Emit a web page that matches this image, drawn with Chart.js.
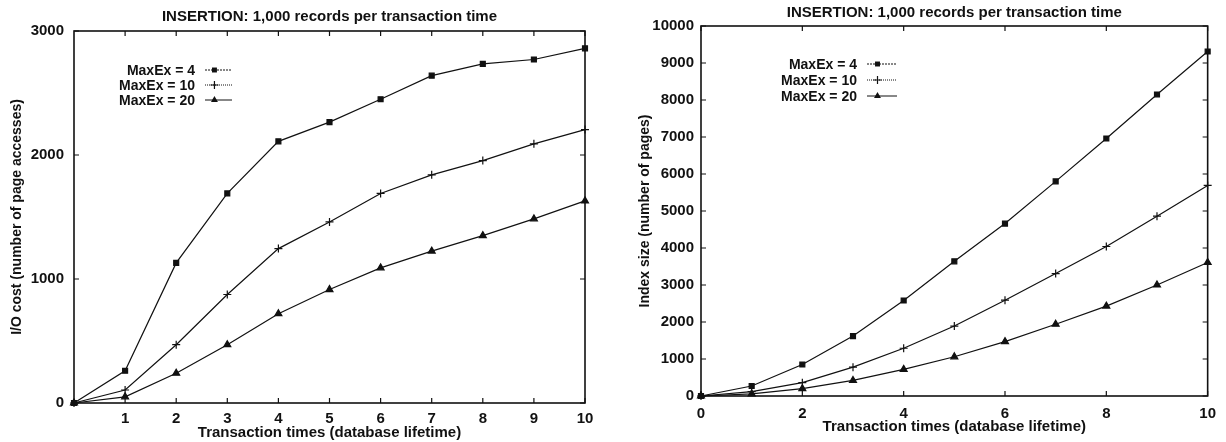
<!DOCTYPE html>
<html>
<head>
<meta charset="utf-8">
<script src="https://cdn.jsdelivr.net/npm/chart.js@4.4.0/dist/chart.umd.min.js"></script>
<style>
  body { margin: 0; background: #fff; }
  .panel { position: absolute; top: 0; width: 613px; height: 442px; }
</style>
</head>
<body>
<div class="panel" style="left:0"><canvas id="ioChart" width="613" height="442"></canvas></div>
<div class="panel" style="left:613px"><canvas id="sizeChart" width="613" height="442"></canvas></div>
<script>
// transaction times 0..10
const times = [0, 1, 2, 3, 4, 5, 6, 7, 8, 9, 10];
const seriesNames = ['MaxEx = 4', 'MaxEx = 10', 'MaxEx = 20'];

// left: I/O cost (number of page accesses)
const ioMaxEx4  = [0, 260, 1130, 1690, 2110, 2265, 2450, 2640, 2735, 2770, 2860];
const ioMaxEx10 = [0, 105, 470, 875, 1245, 1460, 1690, 1840, 1955, 2090, 2205];
const ioMaxEx20 = [0, 50, 240, 470, 720, 915, 1090, 1225, 1350, 1485, 1630];

// right: index size (number of pages)
const sizeMaxEx4  = [0, 270, 850, 1620, 2580, 3640, 4660, 5800, 6960, 8150, 9310];
const sizeMaxEx10 = [0, 120, 360, 780, 1290, 1890, 2590, 3310, 4040, 4860, 5690];
const sizeMaxEx20 = [0, 60, 200, 420, 720, 1060, 1470, 1940, 2430, 3000, 3610];

const ioTicksX = [1, 2, 3, 4, 5, 6, 7, 8, 9, 10];
const ioTicksY = [0, 1000, 2000, 3000];
const sizeTicksX = [0, 2, 4, 6, 8, 10];
const sizeTicksY = [0, 1000, 2000, 3000, 4000, 5000, 6000, 7000, 8000, 9000, 10000];

const titleText = 'INSERTION: 1,000 records per transaction time';
const FONT = '"Liberation Sans", Arial, Helvetica, sans-serif';
const INK = '#111';
const styles = [
  { pointStyle: 'rect', pointRadius: 3.5, dash: [2, 1] },
  { pointStyle: 'cross', pointRadius: 4, dash: [1, 1] },
  { pointStyle: 'triangle', pointRadius: 4, dash: [] },
];

function makeDatasets(series) {
  return series.map((vals, i) => ({
    label: seriesNames[i],
    data: times.map((t, j) => ({ x: t, y: vals[j] })),
    borderColor: INK,
    backgroundColor: INK,
    borderWidth: 1.2,
    pointStyle: styles[i].pointStyle,
    pointRadius: styles[i].pointRadius,
    pointBorderWidth: 1.2,
    pointBackgroundColor: INK,
    pointBorderColor: INK,
    tension: 0,
    clip: false,
  }));
}

function marker(ctx, style, x, y, r) {
  ctx.beginPath();
  if (style === 'rect') {
    const s = r * Math.SQRT2 / 2;
    ctx.fillRect(x - s, y - s, 2 * s, 2 * s);
  } else if (style === 'cross') {
    ctx.moveTo(x - r, y); ctx.lineTo(x + r, y);
    ctx.moveTo(x, y - r); ctx.lineTo(x, y + r);
    ctx.stroke();
  } else {
    ctx.moveTo(x, y - r);
    ctx.lineTo(x + r * 0.87, y + r * 0.5);
    ctx.lineTo(x - r * 0.87, y + r * 0.5);
    ctx.closePath();
    ctx.fill();
  }
}

// gnuplot style frame with inward ticks
const framePlugin = {
  id: 'frame',
  afterDraw(chart) {
    const { ctx, chartArea: a, scales: { x, y } } = chart;
    ctx.save();
    ctx.strokeStyle = INK;
    ctx.lineWidth = 1.6;
    ctx.strokeRect(a.left, a.top, a.right - a.left, a.bottom - a.top);
    ctx.lineWidth = 1.2;
    ctx.beginPath();
    x.ticks.forEach(t => {
      const px = x.getPixelForValue(t.value);
      ctx.moveTo(px, a.bottom); ctx.lineTo(px, a.bottom - 5);
      ctx.moveTo(px, a.top); ctx.lineTo(px, a.top + 5);
    });
    y.ticks.forEach(t => {
      const py = y.getPixelForValue(t.value);
      ctx.moveTo(a.left, py); ctx.lineTo(a.left + 5, py);
      ctx.moveTo(a.right, py); ctx.lineTo(a.right - 5, py);
    });
    ctx.stroke();
    ctx.restore();
  }
};

// key drawn inside the plot: label, then a sample line with marker
const keyPlugin = {
  id: 'key',
  afterDraw(chart, args, opts) {
    const { ctx } = chart;
    ctx.save();
    ctx.font = 'bold 14px ' + FONT;
    ctx.textAlign = 'right';
    ctx.textBaseline = 'middle';
    chart.data.datasets.forEach((ds, i) => {
      const yy = opts.y + i * opts.gap;
      ctx.fillStyle = INK;
      ctx.fillText(ds.label, opts.x, yy + 1);
      ctx.strokeStyle = INK;
      ctx.lineWidth = 1;
      ctx.setLineDash(styles[i].dash);
      ctx.beginPath();
      ctx.moveTo(opts.x + 10, yy); ctx.lineTo(opts.x + 10 + opts.len, yy);
      ctx.stroke();
      ctx.setLineDash([]);
      ctx.lineWidth = 1.2;
      marker(ctx, styles[i].pointStyle, opts.x + 10 + opts.len * 0.35, yy, styles[i].pointRadius);
    });
    ctx.restore();
  }
};

function makeChart(id, series, cfg) {
  return new Chart(document.getElementById(id), {
    type: 'line',
    data: { datasets: makeDatasets(series) },
    plugins: [framePlugin, keyPlugin],
    options: {
      responsive: false,
      animation: false,
      layout: { padding: { left: 0, top: 0, bottom: 0, right: cfg.padRight } },
      plugins: {
        legend: { display: false },
        tooltip: { enabled: false },
        title: {
          display: true,
          text: titleText,
          fullSize: false,
          color: INK,
          font: { family: FONT, size: 15, weight: 'bold', lineHeight: 1.2 },
          padding: cfg.titlePad,
        },
        key: cfg.key,
      },
      scales: {
        x: {
          type: 'linear',
          min: 0, max: 10,
          afterFit: s => { s.height = cfg.xHeight; },
          afterBuildTicks: s => { s.ticks = cfg.ticksX.map(v => ({ value: v })); },
          grid: { display: false, drawTicks: false },
          border: { display: false },
          ticks: {
            color: INK, padding: cfg.xTickPad, maxRotation: 0,
            callback: v => String(v),
            font: { family: FONT, size: 15, weight: 'bold', lineHeight: 1 },
          },
          title: {
            display: true,
            text: 'Transaction times (database lifetime)',
            color: INK,
            font: { family: FONT, size: 15, weight: 'bold', lineHeight: 1 },
            padding: { top: 0, bottom: cfg.xTitlePad },
          },
        },
        y: {
          type: 'linear',
          min: 0, max: cfg.yMax,
          afterFit: s => { s.width = cfg.yWidth; },
          afterBuildTicks: s => { s.ticks = cfg.ticksY.map(v => ({ value: v })); },
          grid: { display: false, drawTicks: false },
          border: { display: false },
          ticks: {
            color: INK, padding: cfg.yTickPad,
            callback: v => String(v),
            font: { family: FONT, size: 15, weight: 'bold', lineHeight: 1 },
          },
          title: {
            display: true,
            text: cfg.yTitle,
            color: INK,
            font: { family: FONT, size: 14, weight: 'bold', lineHeight: 1 },
            padding: { top: cfg.yTitlePad, bottom: 0 },
          },
        },
      },
    },
  });
}

makeChart('ioChart', [ioMaxEx4, ioMaxEx10, ioMaxEx20], {
  yMax: 3000, ticksX: ioTicksX, ticksY: ioTicksY,
  yTitle: 'I/O cost (number of page accesses)',
  titlePad: { top: 8, bottom: 5 },
  xHeight: 39, yWidth: 74, padRight: 28,
  xTickPad: 8, xTitlePad: 2, yTickPad: 10, yTitlePad: 10,
  key: { x: 195, y: 70, gap: 15, len: 27 },
});

makeChart('sizeChart', [sizeMaxEx4, sizeMaxEx10, sizeMaxEx20], {
  yMax: 10000, ticksX: sizeTicksX, ticksY: sizeTicksY,
  yTitle: 'Index size (number of pages)',
  titlePad: { top: 4, bottom: 4 },
  xHeight: 46, yWidth: 88, padRight: 18,
  xTickPad: 10, xTitlePad: 8, yTickPad: 7, yTitlePad: 25,
  key: { x: 244, y: 64, gap: 16, len: 30 },
});
</script>
</body>
</html>
